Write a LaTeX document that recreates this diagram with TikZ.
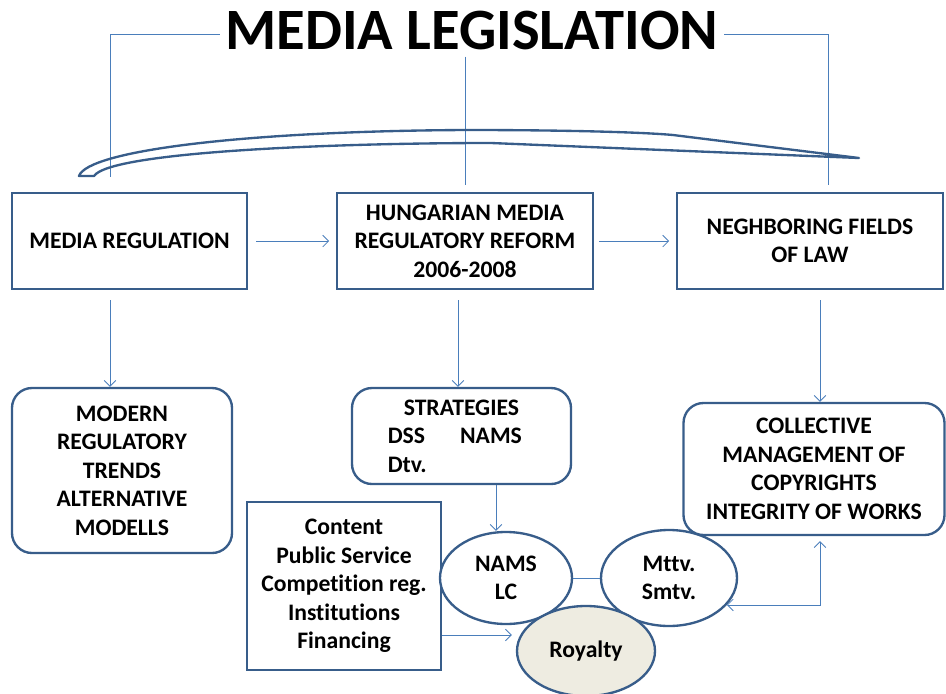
\documentclass[tikz,border=0pt]{standalone}
\usepackage{fontspec}
\setmainfont{Carlito}[Ligatures=NoCommon]
\usetikzlibrary{shapes.geometric,arrows.meta,positioning}
\definecolor{boxcol}{HTML}{385D8A}
\definecolor{linecol}{HTML}{4A7EBB}
\definecolor{royalfill}{HTML}{EEECE1}

\begin{document}
\begin{tikzpicture}[x=0.03cm,y=-0.03cm,
  txt/.style={font=\bfseries\fontsize{20.2}{24.3}\selectfont,align=center},
  sqbox/.style={txt,draw=boxcol,line width=2pt,fill=white,inner sep=0pt},
  rndbox/.style={sqbox,rounded corners=0.6cm},
  oval/.style={txt,ellipse,draw=boxcol,line width=2pt,fill=white,inner sep=0pt},
  thinline/.style={draw=linecol,line width=0.7pt},
  conn/.style={thinline,-{Straight Barb[length=5pt,width=10pt]}},
  biconn/.style={thinline,{Straight Barb[length=5pt,width=10pt]}-{Straight Barb[length=5pt,width=10pt]}}]
			\useasboundingbox (0,0) rectangle (946,693);
			\node (title) at (472,30) [font=\bfseries\fontsize{50}{60}\selectfont,inner xsep=5pt,inner ysep=6pt] {MEDIA LEGISLATION};
			\coordinate (lfoot) at (110,177);
			\coordinate (mfoot) at (465,185);
			\coordinate (rfoot) at (828,185);
			\draw[thinline] ([yshift=-0.12cm]title.west) -| (lfoot);
			\draw[thinline] ([yshift=-0.12cm]title.east) -| (rfoot);
			\draw[thinline] (title.south -| mfoot) -- (mfoot);
			\draw[boxcol,line width=2pt,line join=round] (79,176) .. controls (88,150) and (250,131) .. (467,130)
				.. controls (560,130) and (640,132) .. (673,135) -- (859,158) -- (491,143)
				.. controls (330,143) and (110,152) .. (94,176) -- cycle;

			\node (reg) at (129.5,241) [sqbox,minimum width=7.05cm,minimum height=2.88cm] {MEDIA REGULATION};
			\node (reform) at (465,241) [sqbox,minimum width=7.68cm,minimum height=2.88cm] {HUNGARIAN MEDIA\\REGULATORY REFORM\\2006-2008};
			\node (neigh) at (810,241) [sqbox,minimum width=7.98cm,minimum height=2.88cm] {NEGHBORING FIELDS\\OF LAW};

			\node (modern) at (122,470.5) [rndbox,minimum width=6.6cm,minimum height=4.95cm] {MODERN\\REGULATORY\\TRENDS\\ALTERNATIVE\\MODELLS};
			\node (strat) at (461.5,436) [rndbox,align=left,minimum width=6.57cm,minimum height=2.88cm] {\hspace*{0.48cm}STRATEGIES\\DSS\hspace{1.05cm}NAMS\rule{0.4cm}{0pt}\\Dtv.};
			\node (mttv) at (669,578) [oval,minimum width=4.08cm,minimum height=2.88cm] {Mttv.\\Smtv.};
			\node (coll) at (814,469) [rndbox,minimum width=7.83cm,minimum height=3.96cm] {COLLECTIVE\\MANAGEMENT OF\\COPYRIGHTS\\INTEGRITY OF WORKS};
			\node (content) at (344,586) [sqbox,minimum width=5.82cm,minimum height=5.04cm] {Content\\Public Service\\Competition reg.\\Institutions\\Financing};
			\node (nams) at (506,578) [oval,minimum width=3.96cm,minimum height=2.76cm] {NAMS\\LC};
			\node (royalty) at (586,651) [oval,fill=royalfill,minimum width=4.14cm,minimum height=2.7cm] {Royalty};

			\draw[conn,shorten <=0.24cm,shorten >=0.2cm] (reg.east) -- (reform.west);
			\draw[conn,shorten <=0.15cm,shorten >=0.2cm] (reform.east) -- (neigh.west);
			\draw[conn,shorten <=0.3cm] ([xshift=-0.585cm]reg.south) -- ([xshift=-0.585cm]reg.south |- modern.north);
			\draw[conn,shorten <=0.3cm] ([xshift=-0.21cm]reform.south) -- ([xshift=-0.21cm]reform.south |- strat.north);
			\draw[conn,shorten <=0.3cm] ([xshift=0.3cm]neigh.south) -- ([xshift=0.3cm]neigh.south |- coll.north);
			\draw[conn] ([xshift=1.035cm]strat.south) -- ([xshift=1.035cm]strat.south |- nams.north);
			\draw[thinline] (nams.east) -- (mttv.west);
			\draw[conn,shorten >=0.12cm] ([yshift=-1.47cm]content.east) -- ([yshift=-1.47cm]content.east -| royalty.west);
			\draw[biconn,shorten >=0.15cm] (mttv.-25) -| ([xshift=0.18cm]coll.south);
		\end{tikzpicture}
\end{document}
